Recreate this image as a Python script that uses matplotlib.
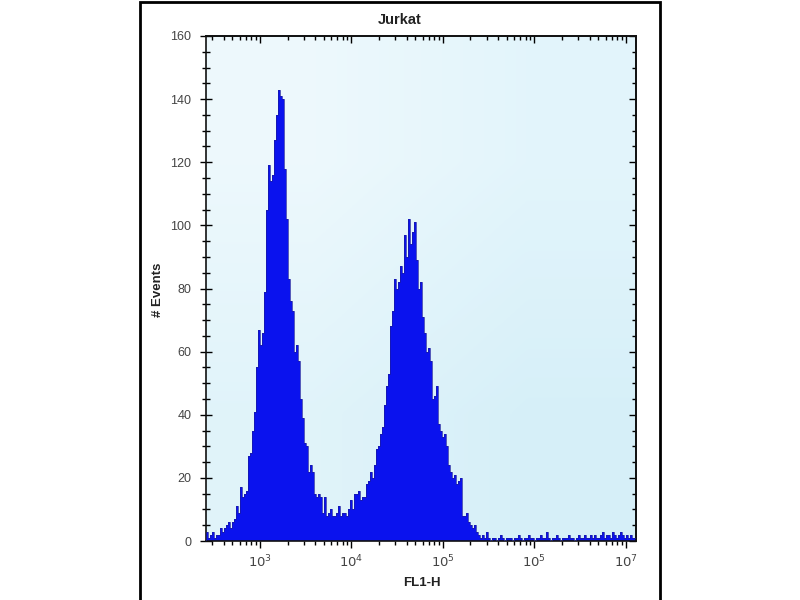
import numpy as np
import matplotlib
matplotlib.use("Agg")
import matplotlib.pyplot as plt
from matplotlib.patches import Rectangle
from matplotlib.ticker import FixedLocator, LogLocator, MultipleLocator, NullFormatter

plt.rcParams["font.family"] = ["Liberation Sans", "DejaVu Sans"]

title = "Jurkat"
x_label = "FL1-H"
y_label = "# Events"

# log10 range of the FL1-H axis
log_min, log_max = 2.41, 7.11

x_tick_values = [1e3, 1e4, 1e5, 1e6, 1e7]
x_tick_labels = [r"$10^{3}$", r"$10^{4}$", r"$10^{5}$", r"$10^{5}$", r"$10^{7}$"]

# events per channel (left to right)
low_counts = [3, 1, 2, 3, 1, 2, 2, 4, 3, 4, 5, 6, 4, 6, 7, 11, 9]
peak_counts = [
    17, 14, 15, 16, 27, 28, 35, 41, 55, 67,
    62, 66, 79, 105, 119, 114, 116, 127, 135, 143,
    141, 140, 118, 102, 83, 76, 73, 60, 62, 57,
    45, 39, 31, 30, 22, 24, 22, 15, 14, 15,
    14, 9, 14, 8, 9, 10, 8, 8, 9, 11,
    8, 9, 9, 8, 10, 13, 10, 15, 15, 16,
    13, 14, 14, 18, 19, 22, 20, 24, 29, 30,
    34, 36, 43, 49, 53, 68, 73, 83, 80, 82,
    87, 85, 97, 90, 102, 94, 98, 101, 89, 80,
    82, 71, 66, 60, 61, 57, 45, 46, 49, 37,
    35, 33, 34, 30, 24, 22, 20, 21, 18, 19,
    20, 8, 8, 9, 6, 5, 4, 5, 3, 2,
    1, 2, 1, 3,
]
tail_counts = [
    1, 0, 1, 1, 0, 1, 2, 1, 0, 1,
    1, 1, 0, 1, 1, 2, 1, 0, 1, 1,
    2, 1, 1, 0, 1, 1, 2, 1, 1, 3,
    1, 0, 1, 1, 2, 1, 0, 1, 1, 1,
    2, 1, 1, 0, 1, 2, 1, 1, 2, 1,
    1, 2, 1, 2, 1, 1, 2, 3, 1, 2,
    2, 1, 3, 2, 1, 2, 3, 2, 1, 2,
    1, 2, 1, 1,
]
counts = np.array(low_counts + peak_counts + tail_counts, dtype=float)
edges = np.logspace(log_min, log_max, len(counts) + 1)

fig = plt.figure(figsize=(8, 6), dpi=100)
ax_pos = [206 / 800, 1 - 541 / 600, 430 / 800, 505 / 600]

# soft light-blue gradient behind the plot area
bg = fig.add_axes(ax_pos, zorder=0)
grad = np.array([[[0.93, 0.975, 0.99], [0.89, 0.96, 0.985]],
                 [[0.88, 0.955, 0.98], [0.84, 0.94, 0.975]]])
bg.imshow(grad, aspect="auto", interpolation="bilinear", extent=(0, 1, 0, 1))
bg.axis("off")

ax = fig.add_axes(ax_pos, zorder=1)
ax.set_facecolor("none")
ax.stairs(counts, edges, fill=True, color="#0a12ee", zorder=2)
ax.stairs(counts, edges, color="#1a1aa0", linewidth=0.5, zorder=3)

ax.set_xscale("log")
ax.set_xlim(10 ** log_min, 10 ** log_max)
ax.set_ylim(0, 160)

ax.xaxis.set_major_locator(FixedLocator(x_tick_values))
ax.set_xticklabels(x_tick_labels)
ax.xaxis.set_minor_locator(LogLocator(base=10, subs=np.arange(2, 10)))
ax.xaxis.set_minor_formatter(NullFormatter())
ax.yaxis.set_major_locator(MultipleLocator(20))
ax.yaxis.set_minor_locator(MultipleLocator(5))

for side in ["left", "right", "top", "bottom"]:
    ax.spines[side].set_linewidth(1.2)
    ax.spines[side].set_color("#111111")

ax.tick_params(axis="y", which="both", left=True, right=False, direction="inout",
               labelsize=9, labelcolor="#444444", pad=6)
ax.tick_params(axis="y", which="major", length=9, width=1)
ax.tick_params(axis="y", which="minor", length=6, width=1)
ax.tick_params(axis="x", which="both", bottom=True, top=False, direction="out",
               labelsize=9.5, labelcolor="#444444", pad=4)
ax.tick_params(axis="x", which="major", length=5, width=1)
ax.tick_params(axis="x", which="minor", length=3, width=1)

# inward ticks on the top and right sides
sec_x = ax.secondary_xaxis("top")
sec_x.set_xscale("log")
sec_x.xaxis.set_major_locator(FixedLocator(x_tick_values))
sec_x.xaxis.set_minor_locator(LogLocator(base=10, subs=np.arange(2, 10)))
sec_x.xaxis.set_major_formatter(NullFormatter())
sec_x.xaxis.set_minor_formatter(NullFormatter())
sec_x.tick_params(which="major", direction="in", length=5, width=1)
sec_x.tick_params(which="minor", direction="in", length=3, width=1)
sec_x.spines["top"].set_linewidth(1.2)

sec_y = ax.secondary_yaxis("right")
sec_y.yaxis.set_major_locator(MultipleLocator(20))
sec_y.yaxis.set_minor_locator(MultipleLocator(5))
sec_y.yaxis.set_major_formatter(NullFormatter())
sec_y.tick_params(which="major", direction="in", length=5, width=1)
sec_y.tick_params(which="minor", direction="in", length=3, width=1)
sec_y.spines["right"].set_linewidth(1.2)

fig.text(400 / 800, 1 - 20 / 600, title, ha="center", va="center",
         fontsize=10.5, fontweight="bold", color="#222222")
fig.text(422 / 800, 1 - 583 / 600, x_label, ha="center", va="center",
         fontsize=9.5, fontweight="bold", color="#222222")
fig.text(158 / 800, 1 - 290 / 600, y_label, ha="center", va="center",
         rotation=90, fontsize=9.5, fontweight="bold", color="#222222")

# outer frame
fig.patches.append(Rectangle((140 / 800, -0.05), 520 / 800, 1.05 - 2 / 600,
                             transform=fig.transFigure, fill=False,
                             edgecolor="black", linewidth=2))

fig.savefig("out.png", dpi=100)
